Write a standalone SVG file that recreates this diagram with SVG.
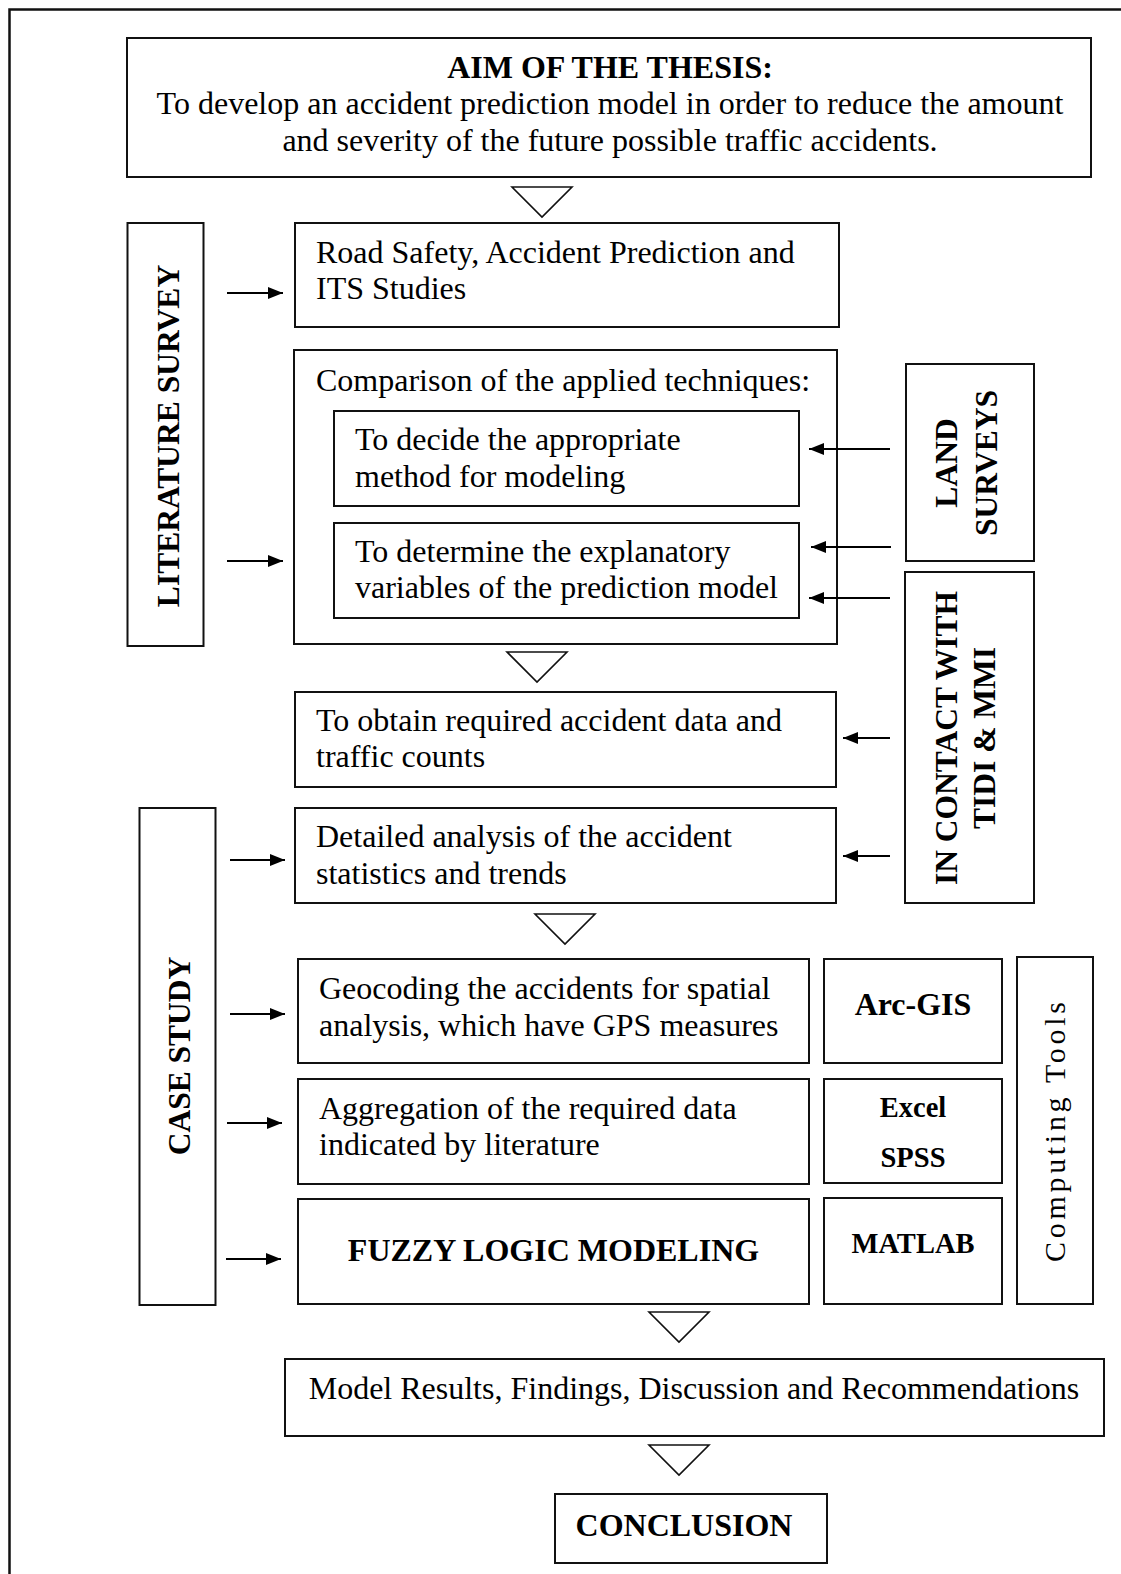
<svg xmlns="http://www.w3.org/2000/svg" width="1121" height="1574" viewBox="0 0 1121 1574">
  <style>
    .box { fill: #fff; stroke: #111; stroke-width: 2; }
    .frame { fill: none; stroke: #111; stroke-width: 2.5; }
    .flow { fill: #fff; stroke: #111; stroke-width: 1.6; stroke-linejoin: miter; }
    .link { fill: none; stroke: #000; stroke-width: 1.8; }
    text { font-family: "Liberation Serif", "Times New Roman", serif; fill: #000; font-size: 32px; }
    .b { font-weight: bold; }
    .mid { text-anchor: middle; }
    .tool { font-size: 28.5px; font-weight: bold; text-anchor: middle; }
    .side { font-size: 31.5px; font-weight: bold; text-anchor: middle; }
  </style>
  <defs>
    <marker id="head" markerUnits="userSpaceOnUse" markerWidth="16" markerHeight="12" refX="15" refY="6" orient="auto">
      <path d="M0,0 L15,6 L0,12 z" fill="#000"/>
    </marker>
    <polygon id="down" points="0,0 60,0 30,30"/>
  </defs>

  <rect width="1121" height="1574" fill="#fff"/>

  <!-- page frame (continues past the right and bottom edges) -->
  <path class="frame" d="M9.5,1580 V9.5 H1130"/>

  <g id="aim">
    <rect class="box" x="127" y="38" width="964" height="139"/>
    <text class="b mid" x="610" y="78">AIM OF THE THESIS:</text>
    <text class="mid" x="610" y="114">To develop an accident prediction model in order to reduce the amount</text>
    <text class="mid" x="610" y="151">and severity of the future possible traffic accidents.</text>
  </g>

  <g id="literature-survey">
    <rect class="box" x="127.5" y="223" width="76" height="423"/>
    <text class="side" transform="translate(179,436) rotate(-90)">LITERATURE SURVEY</text>
  </g>

  <g id="road-safety">
    <rect class="box" x="295" y="223" width="544" height="104"/>
    <text x="316" y="263">Road Safety, Accident Prediction and</text>
    <text x="316" y="299">ITS Studies</text>
  </g>

  <g id="comparison">
    <rect class="box" x="294" y="350" width="543" height="294"/>
    <text x="316" y="391">Comparison of the applied techniques:</text>
  </g>

  <g id="decide-method">
    <rect class="box" x="334" y="411" width="465" height="95"/>
    <text x="355" y="450">To decide the appropriate</text>
    <text x="355" y="487">method for modeling</text>
  </g>

  <g id="determine-variables">
    <rect class="box" x="334" y="523" width="465" height="95"/>
    <text x="355" y="562">To determine the explanatory</text>
    <text x="355" y="598">variables of the prediction model</text>
  </g>

  <g id="land-surveys">
    <rect class="box" x="906" y="364" width="128" height="197"/>
    <text class="side" transform="translate(957,463) rotate(-90)">LAND</text>
    <text class="side" transform="translate(997,463) rotate(-90)">SURVEYS</text>
  </g>

  <g id="contact-tidi-mmi">
    <rect class="box" x="905" y="572" width="129" height="331"/>
    <text class="side" transform="translate(957,738) rotate(-90)">IN CONTACT WITH</text>
    <text class="side" transform="translate(995,738) rotate(-90)">TIDI &amp; MMI</text>
  </g>

  <g id="obtain-data">
    <rect class="box" x="295" y="692" width="541" height="95"/>
    <text x="316" y="731">To obtain required accident data and</text>
    <text x="316" y="767">traffic counts</text>
  </g>

  <g id="case-study">
    <rect class="box" x="139.5" y="808" width="76" height="497"/>
    <text class="side" transform="translate(190,1056) rotate(-90)">CASE STUDY</text>
  </g>

  <g id="detailed-analysis">
    <rect class="box" x="295" y="808" width="541" height="95"/>
    <text x="316" y="847">Detailed analysis of the accident</text>
    <text x="316" y="884">statistics and trends</text>
  </g>

  <g id="geocoding">
    <rect class="box" x="298" y="959" width="511" height="104"/>
    <text x="319" y="999">Geocoding the accidents for spatial</text>
    <text x="319" y="1036">analysis, which have GPS measures</text>
  </g>

  <g id="arc-gis">
    <rect class="box" x="824" y="959" width="178" height="104"/>
    <text class="b mid" x="913" y="1015">Arc-GIS</text>
  </g>

  <g id="aggregation">
    <rect class="box" x="298" y="1079" width="511" height="105"/>
    <text x="319" y="1119">Aggregation of the required data</text>
    <text x="319" y="1155">indicated by literature</text>
  </g>

  <g id="excel-spss">
    <rect class="box" x="824" y="1079" width="178" height="104"/>
    <text class="tool" x="913" y="1117">Excel</text>
    <text class="tool" x="913" y="1167">SPSS</text>
  </g>

  <g id="fuzzy-logic">
    <rect class="box" x="298" y="1199" width="511" height="105"/>
    <text class="b mid" x="553.5" y="1261">FUZZY LOGIC MODELING</text>
  </g>

  <g id="matlab">
    <rect class="box" x="824" y="1198" width="178" height="106"/>
    <text class="tool" x="913" y="1253">MATLAB</text>
  </g>

  <g id="computing-tools">
    <rect class="box" x="1017" y="957" width="76" height="347"/>
    <text class="mid" style="font-size:30px" textLength="260" lengthAdjust="spacing" transform="translate(1065,1132) rotate(-90)">Computing Tools</text>
  </g>

  <g id="model-results">
    <rect class="box" x="285" y="1359" width="819" height="77"/>
    <text class="mid" x="694" y="1399">Model Results, Findings, Discussion and Recommendations</text>
  </g>

  <g id="conclusion">
    <rect class="box" x="555" y="1494" width="272" height="69"/>
    <text class="b mid" x="684" y="1536">CONCLUSION</text>
  </g>

  <g id="connectors">
    <!-- downward flow markers between stages -->
    <use href="#down" class="flow" x="512" y="187"/>
    <use href="#down" class="flow" x="507" y="652"/>
    <use href="#down" class="flow" x="535" y="914"/>
    <use href="#down" class="flow" x="649" y="1312"/>
    <use href="#down" class="flow" x="649" y="1445"/>

    <!-- literature survey inputs -->
    <line class="link" x1="227" y1="293" x2="283" y2="293" marker-end="url(#head)"/>
    <line class="link" x1="227" y1="561" x2="283" y2="561" marker-end="url(#head)"/>

    <!-- land surveys / contact inputs -->
    <line class="link" x1="890" y1="449" x2="809" y2="449" marker-end="url(#head)"/>
    <line class="link" x1="891" y1="547" x2="811" y2="547" marker-end="url(#head)"/>
    <line class="link" x1="890" y1="598" x2="809" y2="598" marker-end="url(#head)"/>
    <line class="link" x1="890" y1="738" x2="843" y2="738" marker-end="url(#head)"/>
    <line class="link" x1="890" y1="856" x2="843" y2="856" marker-end="url(#head)"/>

    <!-- case study inputs -->
    <line class="link" x1="230" y1="860" x2="285" y2="860" marker-end="url(#head)"/>
    <line class="link" x1="230" y1="1014" x2="285" y2="1014" marker-end="url(#head)"/>
    <line class="link" x1="227" y1="1123" x2="282" y2="1123" marker-end="url(#head)"/>
    <line class="link" x1="226" y1="1259" x2="281" y2="1259" marker-end="url(#head)"/>
  </g>
</svg>
